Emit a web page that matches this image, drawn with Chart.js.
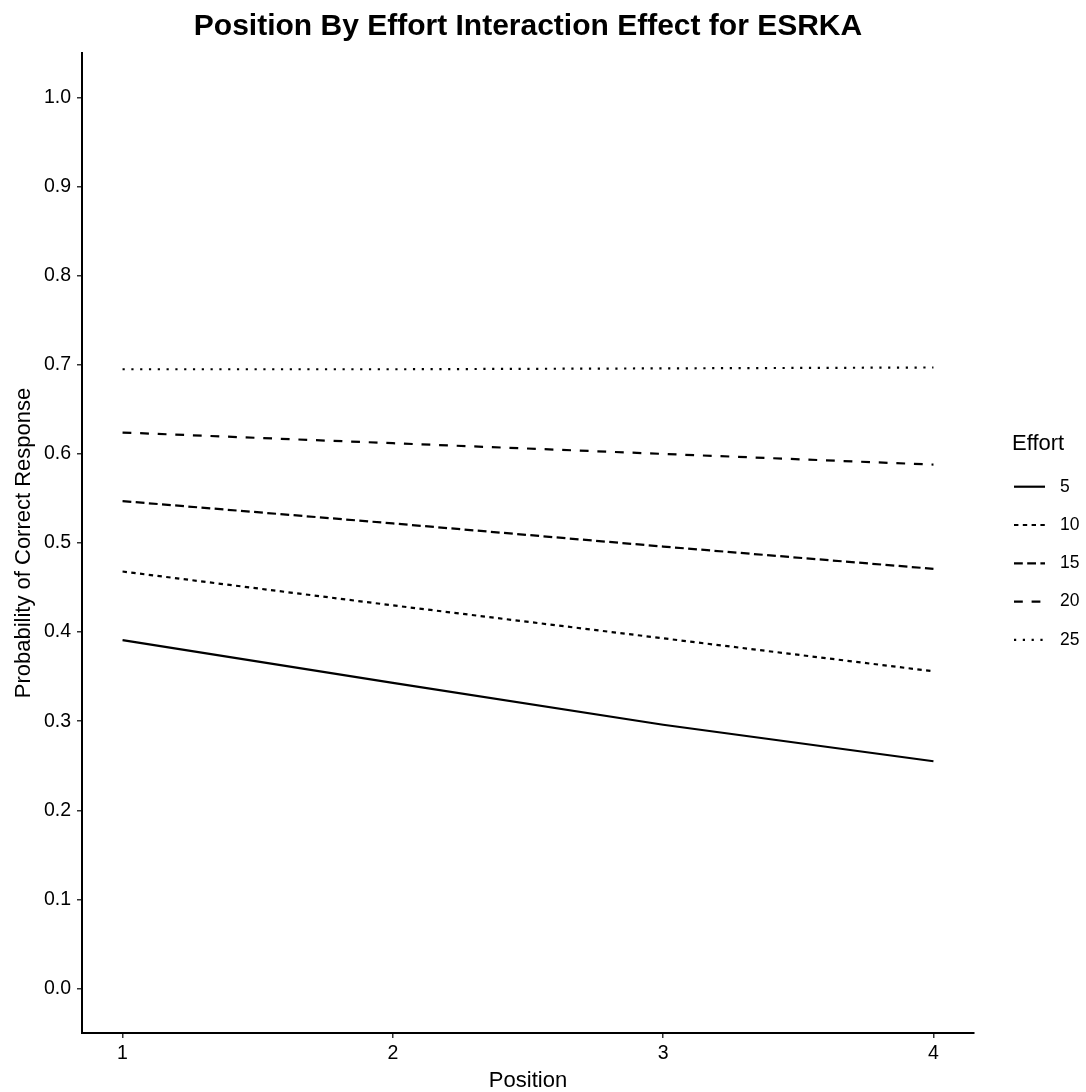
<!DOCTYPE html>
<html>
<head>
<meta charset="utf-8">
<script src="https://cdn.jsdelivr.net/npm/chart.js@4.4.1/dist/chart.umd.min.js"></script>
<style>
html,body{margin:0;padding:0;background:#ffffff;}
#wrap{width:1086px;height:1092px;position:relative;}
</style>
</head>
<body>
<div id="wrap"><canvas id="c" width="1086" height="1092"></canvas></div>
<script>
// ---- data ----
const positions = [1, 2, 3, 4];
const effortLevels = ['5', '10', '15', '20', '25'];
const effort5  = [0.391, 0.343, 0.296, 0.255];
const effort10 = [0.468, 0.430, 0.393, 0.356];
const effort15 = [0.547, 0.522, 0.496, 0.471];
const effort20 = [0.624, 0.612, 0.600, 0.588];
const effort25 = [0.695, 0.695, 0.696, 0.697];
const xTickValues = [1, 2, 3, 4];
const yTickValues = [0.0, 0.1, 0.2, 0.3, 0.4, 0.5, 0.6, 0.7, 0.8, 0.9, 1.0];
const chartTitle = 'Position By Effort Interaction Effect for ESRKA';
const xAxisTitle = 'Position';
const yAxisTitle = 'Probability of Correct Response';
const legendTitle = 'Effort';

// ---- styles ----
const LW = 2.2;
const dashes = [[], [4.4, 4.4], [8.8, 4.4], [8.8, 8.8], [2.2, 6.6]];
const seriesValues = [effort5, effort10, effort15, effort20, effort25];
const FONT = "'Liberation Sans', Arial, Helvetica, sans-serif";

const datasets = seriesValues.map((vals, i) => ({
  label: effortLevels[i],
  data: positions.map((p, j) => ({x: p, y: vals[j]})),
  borderColor: '#000000',
  backgroundColor: '#000000',
  borderWidth: LW,
  borderDash: dashes[i],
  borderCapStyle: 'butt',
  pointRadius: 0,
  pointHoverRadius: 0,
  tension: 0,
  fill: false
}));

const legendPlugin = {
  id: 'ggLegend',
  afterDraw(chart) {
    const ctx = chart.ctx;
    const ca = chart.chartArea;
    const cy = (ca.top + ca.bottom) / 2;
    const x0 = ca.right + 38;
    const step = 38.3;
    ctx.save();
    ctx.fillStyle = '#000';
    ctx.textBaseline = 'middle';
    ctx.textAlign = 'left';
    ctx.font = '22px ' + FONT;
    ctx.fillText(legendTitle, x0, cy - 99);
    ctx.font = '17.5px ' + FONT;
    effortLevels.forEach((lab, i) => {
      const y = cy + (i - 2) * step + 20.3;
      ctx.beginPath();
      ctx.setLineDash(dashes[i]);
      ctx.lineDashOffset = 0;
      ctx.lineCap = 'butt';
      ctx.lineWidth = LW;
      ctx.strokeStyle = '#000';
      ctx.moveTo(x0 + 2, y);
      ctx.lineTo(x0 + 33, y);
      ctx.stroke();
      ctx.setLineDash([]);
      ctx.fillText(lab, x0 + 48, y);
    });
    ctx.restore();
  }
};

new Chart(document.getElementById('c'), {
  type: 'line',
  data: { datasets },
  plugins: [legendPlugin],
  options: {
    responsive: false,
    animation: false,
    devicePixelRatio: 1,
    layout: { padding: { left: 0, right: 112, top: 0, bottom: 0 } },
    plugins: {
      legend: { display: false },
      tooltip: { enabled: false },
      title: {
        display: true,
        text: chartTitle,
        fullSize: false,
        color: '#000',
        font: { family: FONT, size: 30, weight: 'bold' },
        padding: { top: 9, bottom: 8 }
      }
    },
    scales: {
      x: {
        type: 'linear',
        min: 0.85,
        max: 4.15,
        afterBuildTicks: (s) => { s.ticks = xTickValues.map(v => ({value: v})); },
        afterFit: (s) => { s.height = 59; },
        ticks: {
          color: '#000',
          font: { family: FONT, size: 19.5 },
          padding: 4,
          maxRotation: 0,
          autoSkip: false,
          callback: (v) => String(v)
        },
        grid: { display: true, drawOnChartArea: false, drawTicks: true, tickLength: 5, color: '#333', lineWidth: 1.5 },
        border: { display: true, color: '#000', width: 2 },
        title: {
          display: true,
          text: xAxisTitle,
          color: '#000',
          font: { family: FONT, size: 22 },
          padding: { top: 0, bottom: -2 }
        }
      },
      y: {
        type: 'linear',
        min: -0.05,
        max: 1.05,
        afterBuildTicks: (s) => { s.ticks = yTickValues.map(v => ({value: v})); },
        afterFit: (s) => { s.width = 82; },
        ticks: {
          color: '#000',
          font: { family: FONT, size: 19.5 },
          padding: 6,
          autoSkip: false,
          callback: (v) => Number(v).toFixed(1)
        },
        grid: { display: true, drawOnChartArea: false, drawTicks: true, tickLength: 5, color: '#333', lineWidth: 1.5 },
        border: { display: true, color: '#000', width: 2 },
        title: {
          display: true,
          text: yAxisTitle,
          color: '#000',
          font: { family: FONT, size: 22 },
          padding: { top: 11, bottom: 0 }
        }
      }
    }
  }
});
</script>
</body>
</html>
